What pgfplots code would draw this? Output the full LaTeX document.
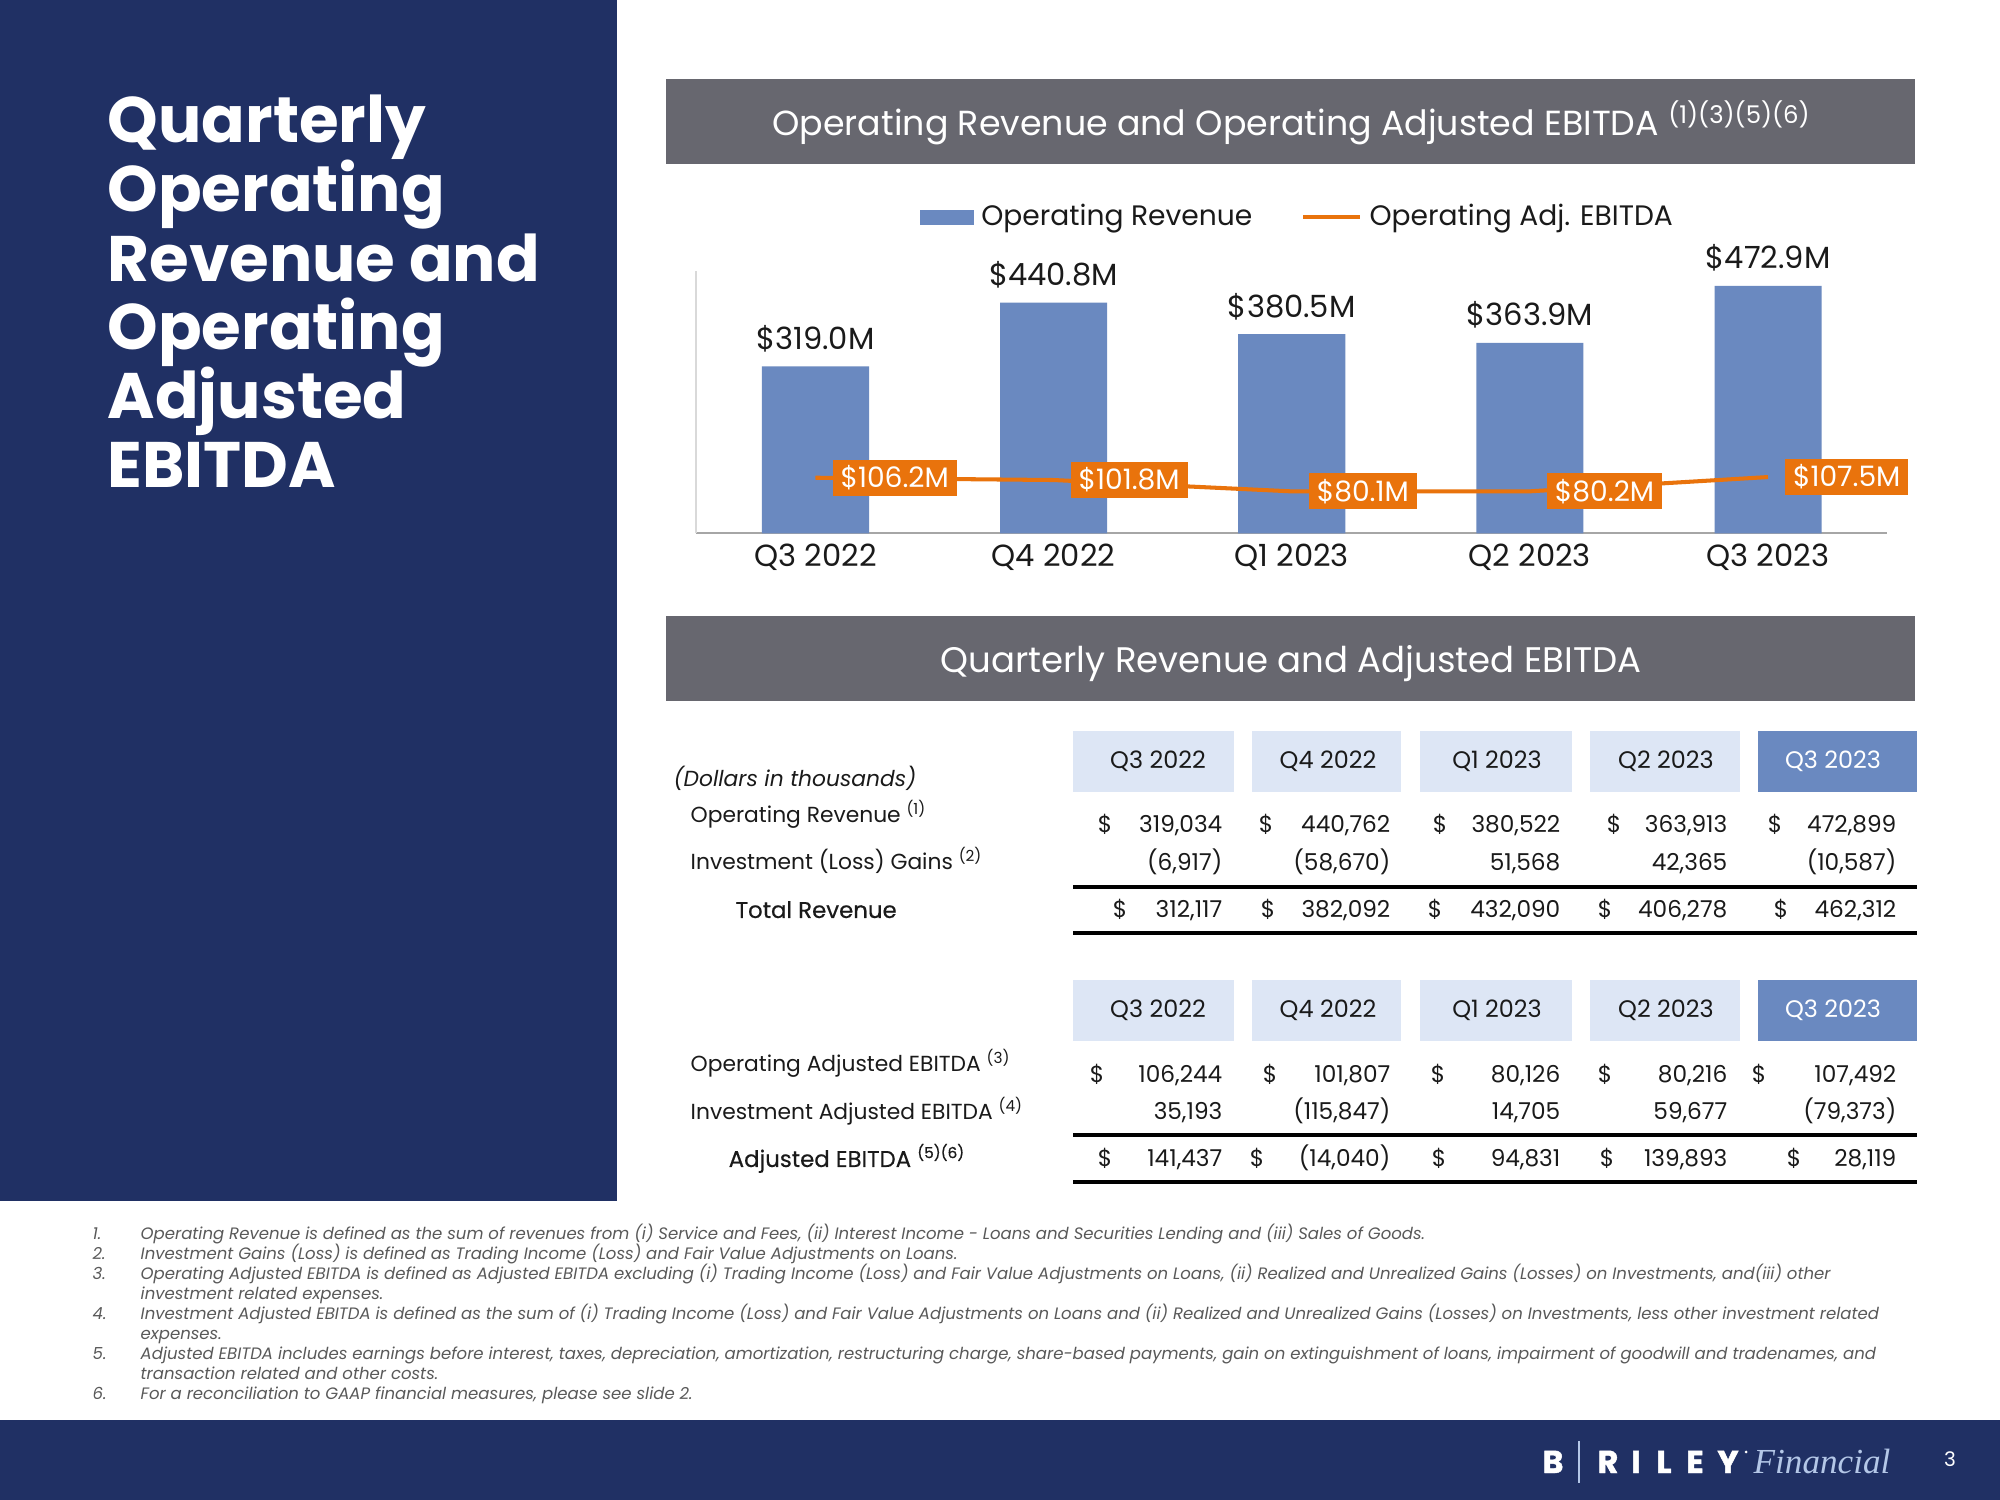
\documentclass[border=0pt]{standalone}
\usepackage{fontspec}
\setmainfont{Poppins}
\newfontfamily\serifit{Liberation Serif}
\newfontfamily\medfont{Poppins}[FakeBold=0.4]
\newfontfamily\heavyfont{Poppins}[BoldFeatures={FakeBold=1.5}]
\usepackage{pgfplots}
\pgfplotsset{compat=1.18}

\definecolor{navy}{HTML}{203064}
\definecolor{hdrgray}{HTML}{67676F}
\definecolor{barblue}{HTML}{6A89C0}
\definecolor{ebitdaorange}{HTML}{E9730C}
\definecolor{cellblue}{HTML}{DDE6F5}
\definecolor{txt}{HTML}{1A1A1A}
\definecolor{notegray}{HTML}{595959}
\definecolor{axisgray}{HTML}{A6A6A6}
\definecolor{axislight}{HTML}{D9D9D9}
\definecolor{logoblue}{HTML}{B4C7E7}

\newcommand\fsz[1]{\fontsize{#1}{#1}\selectfont}
\newcommand\ssup[1]{\textsuperscript{#1}}

\begin{document}
\begin{tikzpicture}
% slide drawn in pixel units of the 2000x1500 reference, y downwards
\begin{scope}[yshift=15cm, x=0.01cm, y=-0.01cm]
\fill[white] (0,0) rectangle (2000,1500);
\fill[navy] (0,0) rectangle (617,1201);
\fill[navy] (0,1420) rectangle (2000,1500);

% left title
\begin{scope}[every node/.style={anchor=base west, inner sep=0pt, text=white, font=\fsz{18.3pt}\bfseries}]
\node at (107,143) {Quarterly};
\node at (107,212) {Operating};
\node at (107,282) {Revenue and};
\node at (107,350) {Operating};
\node at (107,419) {Adjusted};
\node at (107,488) {EBITDA};
\end{scope}

% panel headers
\fill[hdrgray] (666,79) rectangle (1915,164);
\fill[hdrgray] (666,616) rectangle (1915,701);
\node[anchor=base, inner sep=0pt, text=white, font=\fsz{9.9pt}] at (1292,136)
  {Operating Revenue and Operating Adjusted EBITDA \ssup{(1)(3)(5)(6)}};
\node[anchor=base, inner sep=0pt, text=white, font=\fsz{10.1pt}] at (1291,673)
  {Quarterly Revenue and Adjusted EBITDA};

% table header cells
\foreach \ya/\yb in {731/792, 980/1041} {
  \fill[cellblue] (1073,\ya) rectangle (1234,\yb);
  \fill[cellblue] (1252,\ya) rectangle (1401,\yb);
  \fill[cellblue] (1420,\ya) rectangle (1572,\yb);
  \fill[cellblue] (1590,\ya) rectangle (1740,\yb);
  \fill[barblue] (1758,\ya) rectangle (1917,\yb);
}
\begin{scope}[every node/.style={anchor=base, inner sep=0pt, font=\fsz{6.8pt}}]
\foreach \yb in {769, 1018} {
  \node[text=txt] at (1158,\yb) {Q3 2022};
  \node[text=txt] at (1328,\yb) {Q4 2022};
  \node[text=txt] at (1497,\yb) {Q1 2023};
  \node[text=txt] at (1666,\yb) {Q2 2023};
  \node[text=white] at (1833,\yb) {Q3 2023};
}
\end{scope}

% table rules
\foreach \yy in {887, 933, 1135, 1182}
  \draw[black, line width=0.9pt] (1073,\yy) -- (1917,\yy);

% row labels
\begin{scope}[every node/.style={anchor=base west, inner sep=0pt, text=txt, font=\fsz{6.2pt}}]
\node at (673,787) {\itshape (Dollars in thousands)};
\node at (690,823) {Operating Revenue \ssup{(1)}};
\node at (690,870) {Investment (Loss) Gains \ssup{(2)}};
\node at (735,918) {\medfont\fsz{6.5pt}Total Revenue};
\node at (690,1072) {Operating Adjusted EBITDA \ssup{(3)}};
\node at (690,1120) {Investment Adjusted EBITDA \ssup{(4)}};
\node at (728,1167) {\medfont\fsz{6.5pt}Adjusted EBITDA \fsz{6.2pt}\ssup{(5)(6)}};
\end{scope}

% table values
\begin{scope}[every node/.style={inner sep=0pt, text=txt, font=\fsz{6.6pt}}]
\foreach \xx in {1105,1266,1440,1614,1775} \node[anchor=base] at (\xx,833) {\$};
\foreach \xx in {1120,1268,1435,1605,1781} \node[anchor=base] at (\xx,918) {\$};
\foreach \xx in {1097,1270,1438,1605,1759} \node[anchor=base] at (\xx,1083) {\$};
\foreach \xx in {1105,1257,1439,1607,1794} \node[anchor=base] at (\xx,1167) {\$};
\foreach \xx/\v in {1223/{319,034}, 1391/{440,762}, 1561/{380,522}, 1728/{363,913}, 1897/{472,899}}
  \node[anchor=base east] at (\xx,833) {\v};
\foreach \xx/\v in {1223/{(6,917)}, 1391/{(58,670)}, 1561/{51,568}, 1728/{42,365}, 1897/{(10,587)}}
  \node[anchor=base east] at (\xx,871) {\v};
\foreach \xx/\v in {1223/{312,117}, 1391/{382,092}, 1561/{432,090}, 1728/{406,278}, 1897/{462,312}}
  \node[anchor=base east] at (\xx,918) {\v};
\foreach \xx/\v in {1223/{106,244}, 1391/{101,807}, 1561/{80,126}, 1728/{80,216}, 1897/{107,492}}
  \node[anchor=base east] at (\xx,1083) {\v};
\foreach \xx/\v in {1223/{35,193}, 1391/{(115,847)}, 1561/{14,705}, 1728/{59,677}, 1897/{(79,373)}}
  \node[anchor=base east] at (\xx,1120) {\v};
\foreach \xx/\v in {1223/{141,437}, 1391/{(14,040)}, 1561/{94,831}, 1728/{139,893}, 1897/{28,119}}
  \node[anchor=base east] at (\xx,1167) {\v};
\end{scope}

% footnotes
\begin{scope}[every node/.style={anchor=base west, inner sep=0pt, text=notegray, font=\fsz{4.7pt}\itshape}]
\node at (92,1240) {1.}; \node at (140,1240) {Operating Revenue is defined as the sum of revenues from (i) Service and Fees, (ii) Interest Income - Loans and Securities Lending and (iii) Sales of Goods.};
\node at (92,1260) {2.}; \node at (140,1260) {Investment Gains (Loss) is defined as Trading Income (Loss) and Fair Value Adjustments on Loans.};
\node at (92,1280) {3.}; \node at (140,1280) {Operating Adjusted EBITDA is defined as Adjusted EBITDA excluding (i) Trading Income (Loss) and Fair Value Adjustments on Loans, (ii) Realized and Unrealized Gains (Losses) on Investments, and(iii) other};
\node at (140,1300) {investment related expenses.};
\node at (92,1320) {4.}; \node at (140,1320) {Investment Adjusted EBITDA is defined as the sum of (i) Trading Income (Loss) and Fair Value Adjustments on Loans and (ii) Realized and Unrealized Gains (Losses) on Investments, less other investment related};
\node at (140,1340) {expenses.};
\node at (92,1360) {5.}; \node at (140,1360) {Adjusted EBITDA includes earnings before interest, taxes, depreciation, amortization, restructuring charge, share-based payments, gain on extinguishment of loans, impairment of goodwill and tradenames, and};
\node at (140,1380) {transaction related and other costs.};
\node at (92,1400) {6.}; \node at (140,1400) {For a reconciliation to GAAP financial measures, please see slide 2.};
\end{scope}

% footer logo and page number
\begin{scope}[every node/.style={anchor=base, inner sep=0pt, text=white, font=\fsz{9pt}\heavyfont\bfseries}]
\node at (1553,1473) {B};
\node at (1608,1473) {R};
\node at (1636,1473) {I};
\node at (1664,1473) {L};
\node at (1695,1473) {E};
\node at (1728,1473) {Y};
\end{scope}
\draw[logoblue, line width=0.5pt] (1579,1441) -- (1579,1483);
\fill[white] (1746,1452) circle (1.5);
\node[anchor=base west, inner sep=0pt, text=logoblue, font=\fsz{10pt}\serifit\itshape] at (1753,1473) {Financial};
\node[anchor=center, inner sep=0pt, text=white, font=\fsz{5.7pt}] at (1950,1459) {3};
\end{scope}

% chart
\begin{axis}[
  at={(6.96cm,9.67cm)}, anchor=south west,
  width=11.90cm, height=2.62cm, scale only axis,
  xmin=-0.5, xmax=4.5, ymin=0, ymax=501,
  clip=false,
  axis x line*=bottom, axis y line*=left,
  x axis line style={-, draw=axisgray, line width=0.6pt},
  y axis line style={-, draw=axislight, line width=0.6pt},
  xtick={0,1,2,3,4},
  xticklabels={Q3 2022,Q4 2022,Q1 2023,Q2 2023,Q3 2023},
  ytick=\empty,
  major tick length=0pt,
  xticklabel style={anchor=base, yshift=-0.33cm, inner sep=0pt, font=\fsz{8.7pt}, text=txt},
  legend style={at={(0.507,1.206)}, anchor=center, draw=none, fill=none,
    font=\fsz{8pt}, text=txt, legend columns=2,
    /tikz/every even column/.append style={column sep=0.42cm}},
  legend cell align=left,
]
\addplot[ybar, bar width=1.07cm, fill=barblue, draw=none,
  point meta=explicit symbolic, nodes near coords,
  every node near coord/.style={anchor=base, yshift=0.17cm, inner sep=0pt, font=\fsz{8.7pt}, text=txt},
  legend image code/.code={\fill[barblue] (0cm,-0.075cm) rectangle (0.54cm,0.075cm);}]
  coordinates {(0,319.0)[\$319.0M] (1,440.8)[\$440.8M] (2,380.5)[\$380.5M] (3,363.9)[\$363.9M] (4,472.9)[\$472.9M]};
\addlegendentry{Operating Revenue}
\addplot[draw=ebitdaorange, line width=1.15pt, mark=none,
  point meta=explicit symbolic, nodes near coords,
  every node near coord/.style={anchor=west, xshift=0.15cm, fill=ebitdaorange, text=white,
    inner xsep=0.08cm, inner ysep=0pt, minimum height=0.36cm, font=\fsz{8pt}},
  legend image code/.code={\draw[ebitdaorange, line width=1.15pt] (0cm,0cm) -- (0.57cm,0cm);}]
  coordinates {(0,106.2)[\$106.2M] (1,101.8)[\$101.8M] (2,80.1)[\$80.1M] (3,80.2)[\$80.2M] (4,107.5)[\$107.5M]};
\addlegendentry{Operating Adj. EBITDA}
\end{axis}
\end{tikzpicture}
\end{document}
